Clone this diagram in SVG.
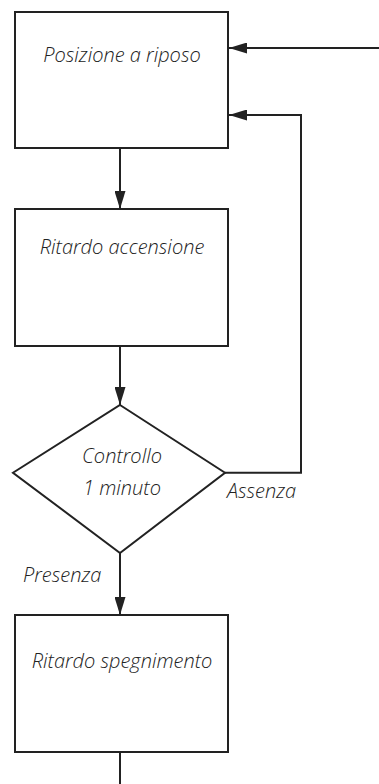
<svg xmlns="http://www.w3.org/2000/svg" width="379" height="784" viewBox="0 0 379 784">
<style>
.n{fill:#fff;stroke:#222;stroke-width:2}
.c{fill:none;stroke:#222;stroke-width:2}
text{font-family:"Open Sans","DejaVu Sans",sans-serif;font-style:italic;font-weight:300;font-size:20px;fill:#222}
.m{text-anchor:middle}
</style>
<defs>
<marker id="a" viewBox="0 0 18 11" refX="18" refY="5.5" markerWidth="18" markerHeight="11" markerUnits="userSpaceOnUse" orient="auto">
<path d="M0,0 L18,5.5 L0,11 Z" fill="#222"/>
</marker>
</defs>
<g id="connectors">
<path class="c" d="M379,48 H229" marker-end="url(#a)"/>
<path class="c" d="M120,148 V209" marker-end="url(#a)"/>
<path class="c" d="M120,346 V405" marker-end="url(#a)"/>
<path class="c" d="M225,472.7 H301 V115 H229" marker-end="url(#a)"/>
<path class="c" d="M120,553 V615" marker-end="url(#a)"/>
<path class="c" d="M120,752 V784"/>
<text x="227" y="498">Assenza</text>
<text x="23" y="582">Presenza</text>
</g>
<g id="posizione">
<rect class="n" x="15" y="12" width="213" height="136"/>
<text class="m" x="122" y="62">Posizione a riposo</text>
</g>
<g id="accensione">
<rect class="n" x="15" y="209" width="213" height="137"/>
<text class="m" x="122" y="254">Ritardo accensione</text>
</g>
<g id="controllo">
<polygon class="n" points="120,405 225,472.7 120,553 13,472.7"/>
<text class="m" x="122" y="463">Controllo</text>
<text class="m" x="122" y="495">1 minuto</text>
</g>
<g id="spegnimento">
<rect class="n" x="15" y="615" width="213" height="137"/>
<text class="m" x="122" y="668">Ritardo spegnimento</text>
</g>
</svg>
